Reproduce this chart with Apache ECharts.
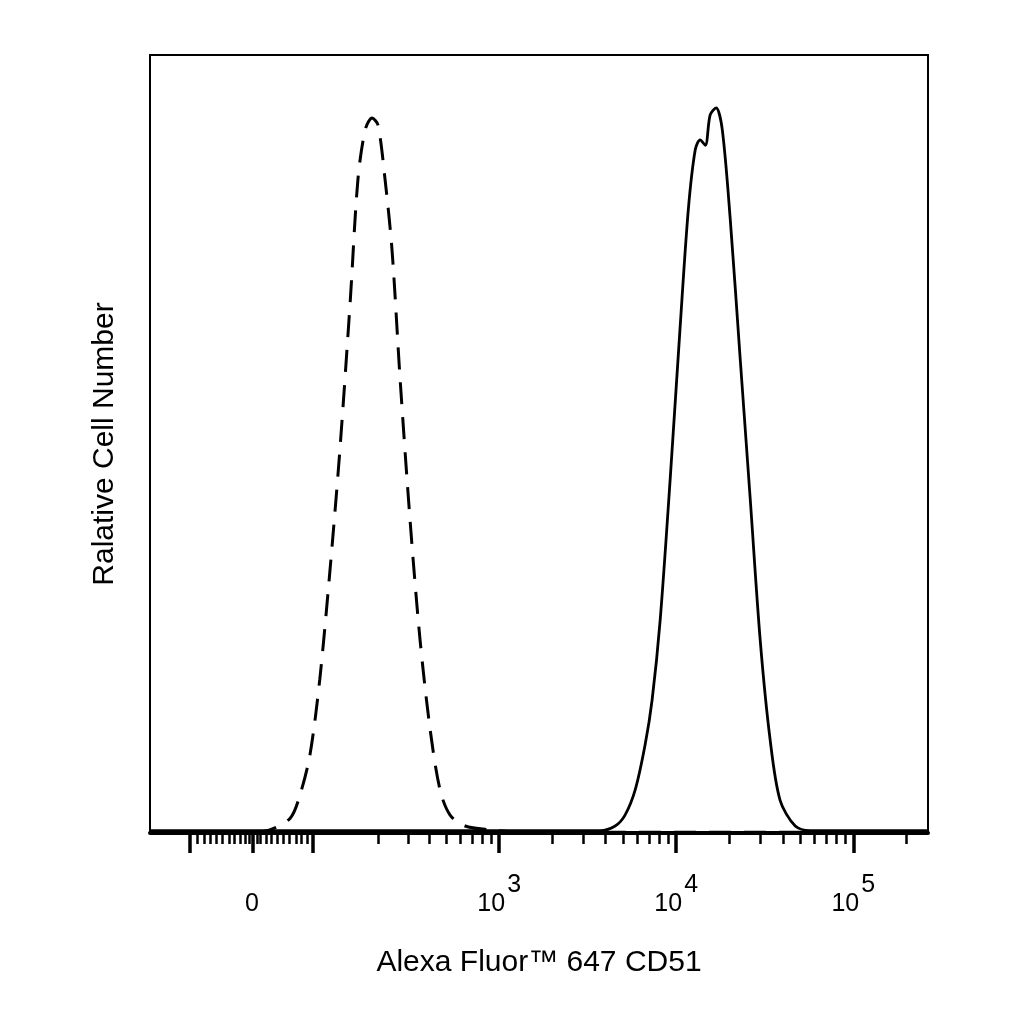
<!DOCTYPE html>
<html><head><meta charset="utf-8">
<script src="https://cdn.jsdelivr.net/npm/echarts@6/dist/echarts.min.js"></script>
<style>html,body{margin:0;padding:0;background:#fff}#c{width:1024px;height:1024px}</style>
</head><body><div id="c"></div>
<script>
// Raw fluorescence values (Alexa Fluor 647) and relative cell counts
const isotypeX = [-145, -3, 18, 41, 53, 66, 80, 96, 113, 133, 149, 166, 183, 199, 220, 242, 270, 309, 353, 404, 461, 526, 641, 888, 1310, 264000];
const isotypeY = [0.1, 0.1, 0.4, 1.9, 4.9, 10, 19.7, 33.8, 49.2, 68.5, 83.9, 90.4, 91.9, 91, 83.9, 74.9, 58.4, 40.2, 24.9, 13.3, 5.5, 2.3, 0.9, 0.4, 0.1, 0.1];
const cd51X = [-145, 3710, 4520, 5140, 5860, 6670, 7310, 8120, 9240, 10500, 11700, 12800, 13650, 14600, 15550, 16800, 18200, 20200, 23000, 26200, 29800, 33900, 38600, 47000, 57100, 264000];
const cd51Y = [0.3, 0.3, 0.9, 2.3, 5.5, 11.3, 17.1, 27.4, 45.4, 64.7, 80.1, 87.8, 89.1, 88.4, 92.3, 93.2, 90.4, 78.8, 60.8, 42.8, 24.8, 12, 4.2, 0.9, 0.3, 0.3];
const majorTicks = [-75, 0, 70, 1000, 10000, 100000];
const labelTicks = [0, 1000, 10000, 100000];
const labelText = ['0', '10^3', '10^4', '10^5'];
const minorTicks = [-65,-55,-48,-40,-33,-26,-20,-14,-8,-4,4,8,14,20,26,33,40,48,55,62,
  200,300,400,500,600,700,800,900,2000,3000,4000,5000,6000,7000,8000,9000,
  20000,30000,40000,50000,60000,70000,80000,90000,200000];
const X_MIN = -145, X_MAX = 264000;

const C = 81.6;
const T = v => Math.asinh(v / C);
const pair = (xs, ys) => xs.map((x, i) => [T(x), ys[i]]);
const tMin = T(X_MIN), tMax = T(X_MAX);
const labelT = labelTicks.map(T);

const chart = echarts.init(document.getElementById('c'));
const FONT = 'Liberation Sans';
chart.setOption({
  animation: false,
  grid: {left: 150, top: 55, width: 778, height: 778, show: true, borderColor: '#000', borderWidth: 2, backgroundColor: 'transparent'},
  xAxis: [{
    type: 'value', min: tMin, max: tMax, position: 'bottom',
    splitLine: {show: false},
    axisLine: {show: true, onZero: false, lineStyle: {color: '#000', width: 4}},
    axisTick: {show: true, customValues: majorTicks.map(T), length: 20, inside: false, lineStyle: {color: '#000', width: 3.5}},
    axisLabel: {
      show: true, customValues: labelT, margin: 40, color: '#000', fontFamily: FONT, fontSize: 25,
      formatter: v => {
        let i = labelT.findIndex(t => Math.abs(t - v) < 1e-6);
        if (i < 0) return '';
        const s = labelText[i];
        if (s.indexOf('^') < 0) return '{b|' + s + '}';
        const p = s.split('^');
        return '{b|' + p[0] + '}{s|' + p[1] + '}';
      },
      rich: {
        b: {fontFamily: FONT, fontSize: 25, color: '#000', verticalAlign: 'bottom', lineHeight: 44, padding: [0, 2, 0, 0]},
        s: {fontFamily: FONT, fontSize: 25, color: '#000', verticalAlign: 'top', padding: [0, 0, 26, 0], lineHeight: 44}
      }
    },
    name: 'Alexa Fluor™ 647 CD51', nameLocation: 'middle', nameGap: 115,
    nameTextStyle: {fontFamily: FONT, fontSize: 30, color: '#000'}
  }, {
    type: 'value', min: tMin, max: tMax, position: 'bottom', gridIndex: 0,
    splitLine: {show: false},
    axisLine: {show: false, onZero: false},
    axisTick: {show: true, customValues: minorTicks.map(T), length: 11, lineStyle: {color: '#000', width: 2.5}},
    axisLabel: {show: false}
  }],
  yAxis: {
    type: 'value', min: 0, max: 100,
    axisLine: {show: false}, axisTick: {show: false}, axisLabel: {show: false}, splitLine: {show: false},
    name: 'Ralative Cell Number', nameLocation: 'middle', nameGap: 30, nameRotate: 90,
    nameTextStyle: {fontFamily: FONT, fontSize: 30, color: '#000'}
  },
  series: [{
    type: 'line', name: 'Isotype', data: pair(isotypeX, isotypeY), smooth: 0.3, symbol: 'none', xAxisIndex: 0,
    lineStyle: {color: '#000', width: 3, type: [22, 13]}
  }, {
    type: 'line', name: 'CD51', data: pair(cd51X, cd51Y), smooth: 0.3, symbol: 'none', xAxisIndex: 0,
    lineStyle: {color: '#000', width: 2.8}
  }]
});
</script></body></html>
